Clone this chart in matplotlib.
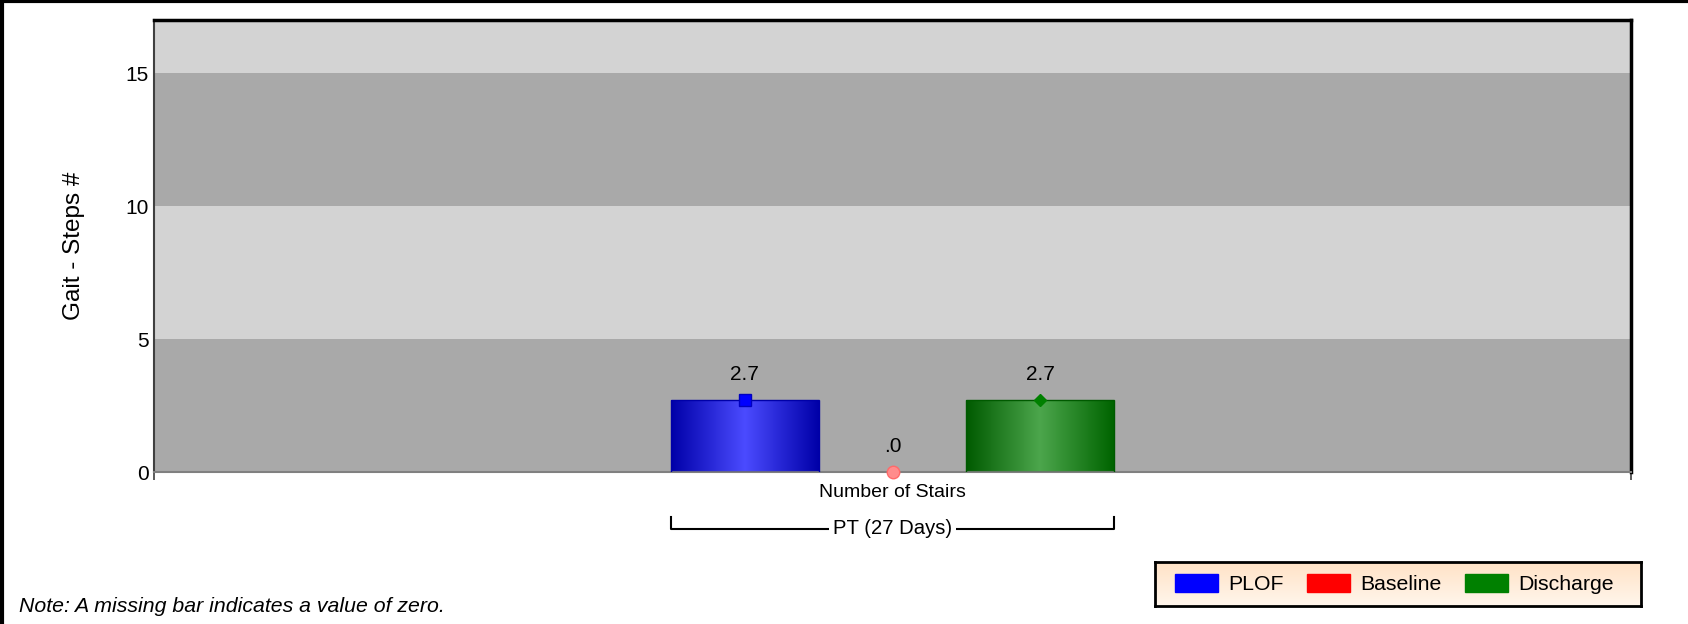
import numpy as np
import matplotlib.pyplot as plt
from matplotlib.colors import LinearSegmentedColormap
from matplotlib.patches import Patch
from matplotlib.lines import Line2D
import matplotlib.transforms as mtransforms

plt.rcParams['font.family'] = ['Liberation Sans', 'DejaVu Sans']

# data
category = "Number of Stairs"
group_label = "PT (27 Days)"
series = ["PLOF", "Baseline", "Discharge"]
values = [2.7, 0.0, 2.7]
colors = ["#0000FF", "#FF0000", "#008000"]
grad_colors = [["#0000A8", "#4B4BFF", "#0000A8"],
               ["#B00000", "#FF5050", "#B00000"],
               ["#005A00", "#4CA64C", "#006400"]]
markers = ["s", "o", "D"]
bands = [0, 5, 10, 15, 17]

fig = plt.figure(figsize=(16.88, 6.24), dpi=100)
ax = fig.add_axes([154/1688, 1-472/624, 1477/1688, 452/624])

ax.set_xlim(-0.5, 0.5)
ax.set_ylim(0, 17)

# alternating bands
for i in range(len(bands)-1):
    c = "#A9A9A9" if i % 2 == 0 else "#D3D3D3"
    ax.axhspan(bands[i], bands[i+1], color=c, zorder=0, lw=0)

w = 0.1
offs = [-w, 0, w]
for i in range(len(series)):
    v = values[i]
    x0 = offs[i] - w/2
    if v > 0:
        cm = LinearSegmentedColormap.from_list("g%d" % i, grad_colors[i])
        grad = np.linspace(0, 1, 256).reshape(1, -1)
        ax.imshow(grad, cmap=cm, aspect='auto', extent=[x0, x0+w, 0, v], zorder=2)
        ax.bar(offs[i], v, width=w, facecolor='none', edgecolor=grad_colors[i][0], lw=1, zorder=3)
    if markers[i] == "o":
        ax.plot(offs[i], v, marker="o", ms=9, mfc="#FF8C8C", mec="#FF6A6A", zorder=5, clip_on=False)
    elif markers[i] == "s":
        ax.plot(offs[i], v, marker="s", ms=9, mfc=colors[i], mec="#0000C0", zorder=5)
    else:
        ax.plot(offs[i], v, marker="D", ms=6.5, mfc=colors[i], mec=colors[i], zorder=5)
    lab = "%.1f" % v
    if lab.startswith("0."):
        lab = lab[1:]
    ax.annotate(lab, (offs[i], v), xytext=(0, 26), textcoords='offset pixels',
                ha='center', va='center', fontsize=15, zorder=6)

ax.set_xlim(-0.5, 0.5)
ax.set_ylim(0, 17)

ax.set_yticks([0, 5, 10, 15])
ax.tick_params(axis='y', length=0, pad=4, labelsize=15)
ax.set_xticks([-0.5, 0.5])
ax.set_xticklabels(["", ""])
ax.tick_params(axis='x', length=6, width=1.2, color="#404040")
ax.set_ylabel("Gait - Steps #", fontsize=17.5)
ax.yaxis.set_label_coords(-0.047, 0.5)

ax.spines['top'].set_color('black')
ax.spines['top'].set_linewidth(2.5)
ax.spines['right'].set_color('black')
ax.spines['right'].set_linewidth(2.5)
ax.spines['left'].set_color('#404040')
ax.spines['left'].set_linewidth(1.5)
ax.spines['bottom'].set_color('#808080')
ax.spines['bottom'].set_linewidth(1.5)

# category label and group bracket
trans = mtransforms.blended_transform_factory(ax.transData, ax.transAxes)
ax.text(0, -0.046, category, transform=trans, ha='center', va='center', fontsize=14)
gx0 = offs[0] - w/2
gx1 = offs[-1] + w/2
yb = -0.126
ax.plot([gx0, gx0, gx1, gx1], [-0.100, yb, yb, -0.100], transform=trans,
        color='black', lw=1.5, clip_on=False)
ax.text(0, yb, group_label, transform=trans, ha='center', va='center', fontsize=14.6,
        bbox=dict(facecolor='white', edgecolor='none', pad=3))

# note
fig.text(19/1688, 1-606/624, "Note: A missing bar indicates a value of zero.",
         fontsize=15.3, style='italic', ha='left', va='center')

# legend box with gradient
lax = fig.add_axes([1155/1688, 1-606/624, 486/1688, 44/624])
lgrad = np.linspace(0, 1, 256).reshape(-1, 1)
lcm = LinearSegmentedColormap.from_list("leg", ["#FFE2C6", "#FFF6EC"])
lax.imshow(lgrad, cmap=lcm, aspect='auto', extent=[0, 1, 0, 1])
lax.set_xticks([])
lax.set_yticks([])
for s in lax.spines.values():
    s.set_color('black')
    s.set_linewidth(2)
handles = [Patch(facecolor=c, edgecolor=c) for c in colors]
fig.legend(handles, series, loc='center', bbox_to_anchor=((1155+1641)/2/1688 - 0.002, 1-584/624),
           ncol=3, frameon=False, fontsize=15.3, handlelength=2.0, handleheight=0.95,
           handletextpad=0.5, columnspacing=1.1)

# figure border (top, left)
fig.add_artist(Line2D([0, 1], [0.998, 0.998], color='black', lw=3, transform=fig.transFigure))
fig.add_artist(Line2D([0.001, 0.001], [0, 1], color='black', lw=3, transform=fig.transFigure))

fig.savefig("out.png", dpi=100)
